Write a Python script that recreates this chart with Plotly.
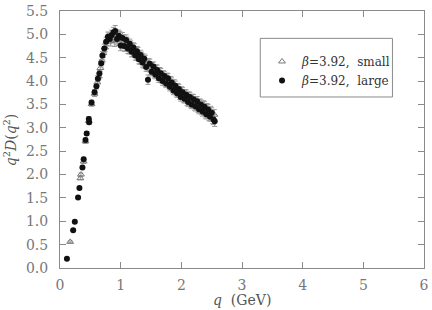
import plotly.graph_objects as go

# ---- data ----
q_small = [0.168, 0.336, 0.345, 0.390, 0.420, 0.475, 0.520, 0.570, 0.615, 0.640,
           0.665, 0.690, 0.715, 0.745, 0.775, 0.805, 0.835, 0.865, 0.895, 0.925,
           0.955, 0.985, 1.015, 1.045, 1.075, 1.105, 1.135, 1.165, 1.195, 1.225,
           1.255, 1.285, 1.315, 1.345, 1.375, 1.405, 1.435, 1.465, 1.495, 1.525,
           1.555, 1.585, 1.615, 1.645, 1.675, 1.705, 1.735, 1.765, 1.795, 1.825,
           1.855, 1.885, 1.915, 1.945, 1.975, 2.005, 2.035, 2.065, 2.095, 2.125,
           2.155, 2.185, 2.215, 2.245, 2.275, 2.305, 2.335, 2.365, 2.395, 2.425,
           2.455, 2.485, 2.515, 2.545]
d_small = [0.56, 1.92, 2.00, 2.28, 2.71, 3.15, 3.51, 3.73, 3.97, 4.10,
           4.28, 4.44, 4.60, 4.72, 4.86, 4.92, 4.86, 4.96, 4.85, 4.98,
           4.88, 4.95, 4.80, 4.88, 4.74, 4.83, 4.68, 4.76, 4.62, 4.70,
           4.54, 4.62, 4.46, 4.53, 4.38, 4.45, 4.30, 4.38, 4.23, 4.30,
           4.16, 4.25, 4.10, 4.19, 4.05, 4.12, 3.97, 4.07, 3.92, 4.00,
           3.84, 3.93, 3.77, 3.85, 3.70, 3.78, 3.64, 3.72, 3.58, 3.67,
           3.53, 3.62, 3.48, 3.56, 3.43, 3.51, 3.38, 3.47, 3.32, 3.41,
           3.27, 3.35, 3.21, 3.28]
e_small = [0.02, 0.03, 0.03, 0.04, 0.04, 0.05, 0.05, 0.06, 0.07, 0.07,
           0.07, 0.08, 0.09, 0.09, 0.10, 0.11, 0.11, 0.12, 0.11, 0.12,
           0.12, 0.11, 0.11, 0.11, 0.10, 0.11, 0.10, 0.10, 0.10, 0.10,
           0.10, 0.10, 0.10, 0.09, 0.10, 0.10, 0.09, 0.10, 0.09, 0.10,
           0.09, 0.10, 0.09, 0.10, 0.09, 0.10, 0.09, 0.10, 0.09, 0.10,
           0.09, 0.10, 0.09, 0.10, 0.09, 0.10, 0.09, 0.10, 0.10, 0.10,
           0.10, 0.10, 0.10, 0.10, 0.10, 0.11, 0.10, 0.11, 0.11, 0.11,
           0.11, 0.11, 0.12, 0.11]

q_large = [0.114, 0.217, 0.244, 0.298, 0.320, 0.370, 0.390, 0.420, 0.440, 0.475,
           0.480, 0.520, 0.570, 0.600, 0.625, 0.650, 0.680, 0.700, 0.730, 0.760,
           0.790, 0.820, 0.850, 0.880, 0.910, 0.940, 0.970, 1.000, 1.030, 1.060,
           1.090, 1.120, 1.150, 1.180, 1.210, 1.240, 1.270, 1.300, 1.330, 1.360,
           1.390, 1.420, 1.450, 1.480, 1.510, 1.540, 1.570, 1.600, 1.630, 1.660,
           1.690, 1.720, 1.750, 1.780, 1.810, 1.840, 1.870, 1.900, 1.930, 1.960,
           1.990, 2.020, 2.050, 2.080, 2.110, 2.140, 2.170, 2.200, 2.230, 2.260,
           2.290, 2.320, 2.350, 2.380, 2.410, 2.440, 2.470, 2.500, 2.530, 2.550]
d_large = [0.20, 0.81, 0.99, 1.51, 1.71, 2.15, 2.33, 2.74, 2.88, 3.19,
           3.12, 3.54, 3.76, 3.89, 4.05, 4.16, 4.38, 4.55, 4.70, 4.84,
           4.95, 4.90, 4.98, 5.04, 5.07, 4.90, 4.97, 4.76, 4.92, 4.75,
           4.88, 4.70, 4.80, 4.63, 4.72, 4.55, 4.64, 4.47, 4.56, 4.40,
           4.48, 4.30, 4.03, 4.37, 4.20, 4.31, 4.14, 4.24, 4.06, 4.17,
           4.00, 4.11, 3.95, 4.06, 3.88, 3.97, 3.80, 3.90, 3.74, 3.83,
           3.66, 3.76, 3.62, 3.71, 3.55, 3.66, 3.50, 3.61, 3.46, 3.57,
           3.40, 3.50, 3.35, 3.45, 3.29, 3.39, 3.24, 3.32, 3.18, 3.14]
e_large = [0.01, 0.02, 0.02, 0.03, 0.03, 0.03, 0.04, 0.04, 0.04, 0.05,
           0.05, 0.05, 0.06, 0.06, 0.07, 0.07, 0.08, 0.08, 0.09, 0.09,
           0.10, 0.10, 0.11, 0.11, 0.12, 0.11, 0.12, 0.11, 0.12, 0.11,
           0.11, 0.11, 0.10, 0.11, 0.10, 0.10, 0.10, 0.10, 0.10, 0.10,
           0.10, 0.09, 0.10, 0.10, 0.09, 0.10, 0.09, 0.10, 0.09, 0.10,
           0.09, 0.10, 0.09, 0.10, 0.09, 0.10, 0.09, 0.10, 0.09, 0.10,
           0.09, 0.10, 0.09, 0.10, 0.09, 0.10, 0.09, 0.10, 0.10, 0.10,
           0.10, 0.10, 0.10, 0.11, 0.10, 0.11, 0.10, 0.11, 0.11, 0.11]

x_ticks = [0, 1, 2, 3, 4, 5, 6]
y_ticks = [0.0, 0.5, 1.0, 1.5, 2.0, 2.5, 3.0, 3.5, 4.0, 4.5, 5.0, 5.5]

name_small = "<i>β</i>=3.92,  small"
name_large = "<i>β</i>=3.92,  large"

FONT = "DejaVu Serif"
GRAY = "#8a8a8a"

fig = go.Figure()
fig.add_trace(go.Scatter(
    x=q_small, y=d_small, mode="markers", name=name_small,
    marker=dict(symbol="triangle-up-open", size=6, color="#777777",
                line=dict(width=1, color="#777777")),
    error_y=dict(type="data", array=e_small, color="#9a9a9a",
                 thickness=1, width=2.5),
))
fig.add_trace(go.Scatter(
    x=q_large, y=d_large, mode="markers", name=name_large,
    marker=dict(symbol="circle", size=6, color="#111111"),
    error_y=dict(type="data", array=e_large, color="#9a9a9a",
                 thickness=1, width=2.5),
))

axis_common = dict(
    showline=True, linecolor=GRAY, linewidth=1, mirror="ticks",
    ticks="inside", ticklen=6, tickcolor=GRAY, tickwidth=1,
    showgrid=False, zeroline=False, ticklabeloverflow="allow",
    tickfont=dict(family=FONT, size=14, color="#777777"),
)

fig.update_layout(
    width=432, height=310,
    margin=dict(l=60, r=3, t=5, b=42),
    paper_bgcolor="white", plot_bgcolor="white",
    showlegend=True,
    legend=dict(
        x=0.555, y=0.86, xanchor="left", yanchor="top",
        bgcolor="rgba(0,0,0,0)", borderwidth=0,
        font=dict(family=FONT, size=12, color="#333333"),
        tracegroupgap=6, traceorder="normal",
    ),
    xaxis=dict(range=[0, 6], tickvals=x_ticks,
               ticktext=[str(v) for v in x_ticks], ticklabelstandoff=4,
               **axis_common),
    yaxis=dict(range=[0, 5.5], tickvals=y_ticks,
               ticktext=[f"{v:.1f}" for v in y_ticks], ticklabelstandoff=8,
               **axis_common),
    shapes=[dict(type="rect", xref="paper", yref="paper",
                 x0=0.5501, x1=0.9133, y0=0.6654, y1=0.8935,
                 line=dict(color=GRAY, width=1), fillcolor="rgba(0,0,0,0)")],
    annotations=[
        dict(text="<i>q</i>  (GeV)", xref="paper", yref="paper",
             x=0.5, y=-0.125, xanchor="center", yanchor="middle",
             showarrow=False, font=dict(family=FONT, size=14, color="#555555")),
        dict(text="<i>q</i><sup>2</sup><i>D</i>(<i>q</i><sup>2</sup>)",
             xref="paper", yref="paper", x=-0.138, y=0.5,
             xanchor="center", yanchor="middle", textangle=-90,
             showarrow=False, font=dict(family=FONT, size=14, color="#555555")),
    ],
)

fig.write_html("out.html", config={"displayModeBar": False},
               post_script="document.body.style.margin='0';document.body.style.overflow='hidden';")
